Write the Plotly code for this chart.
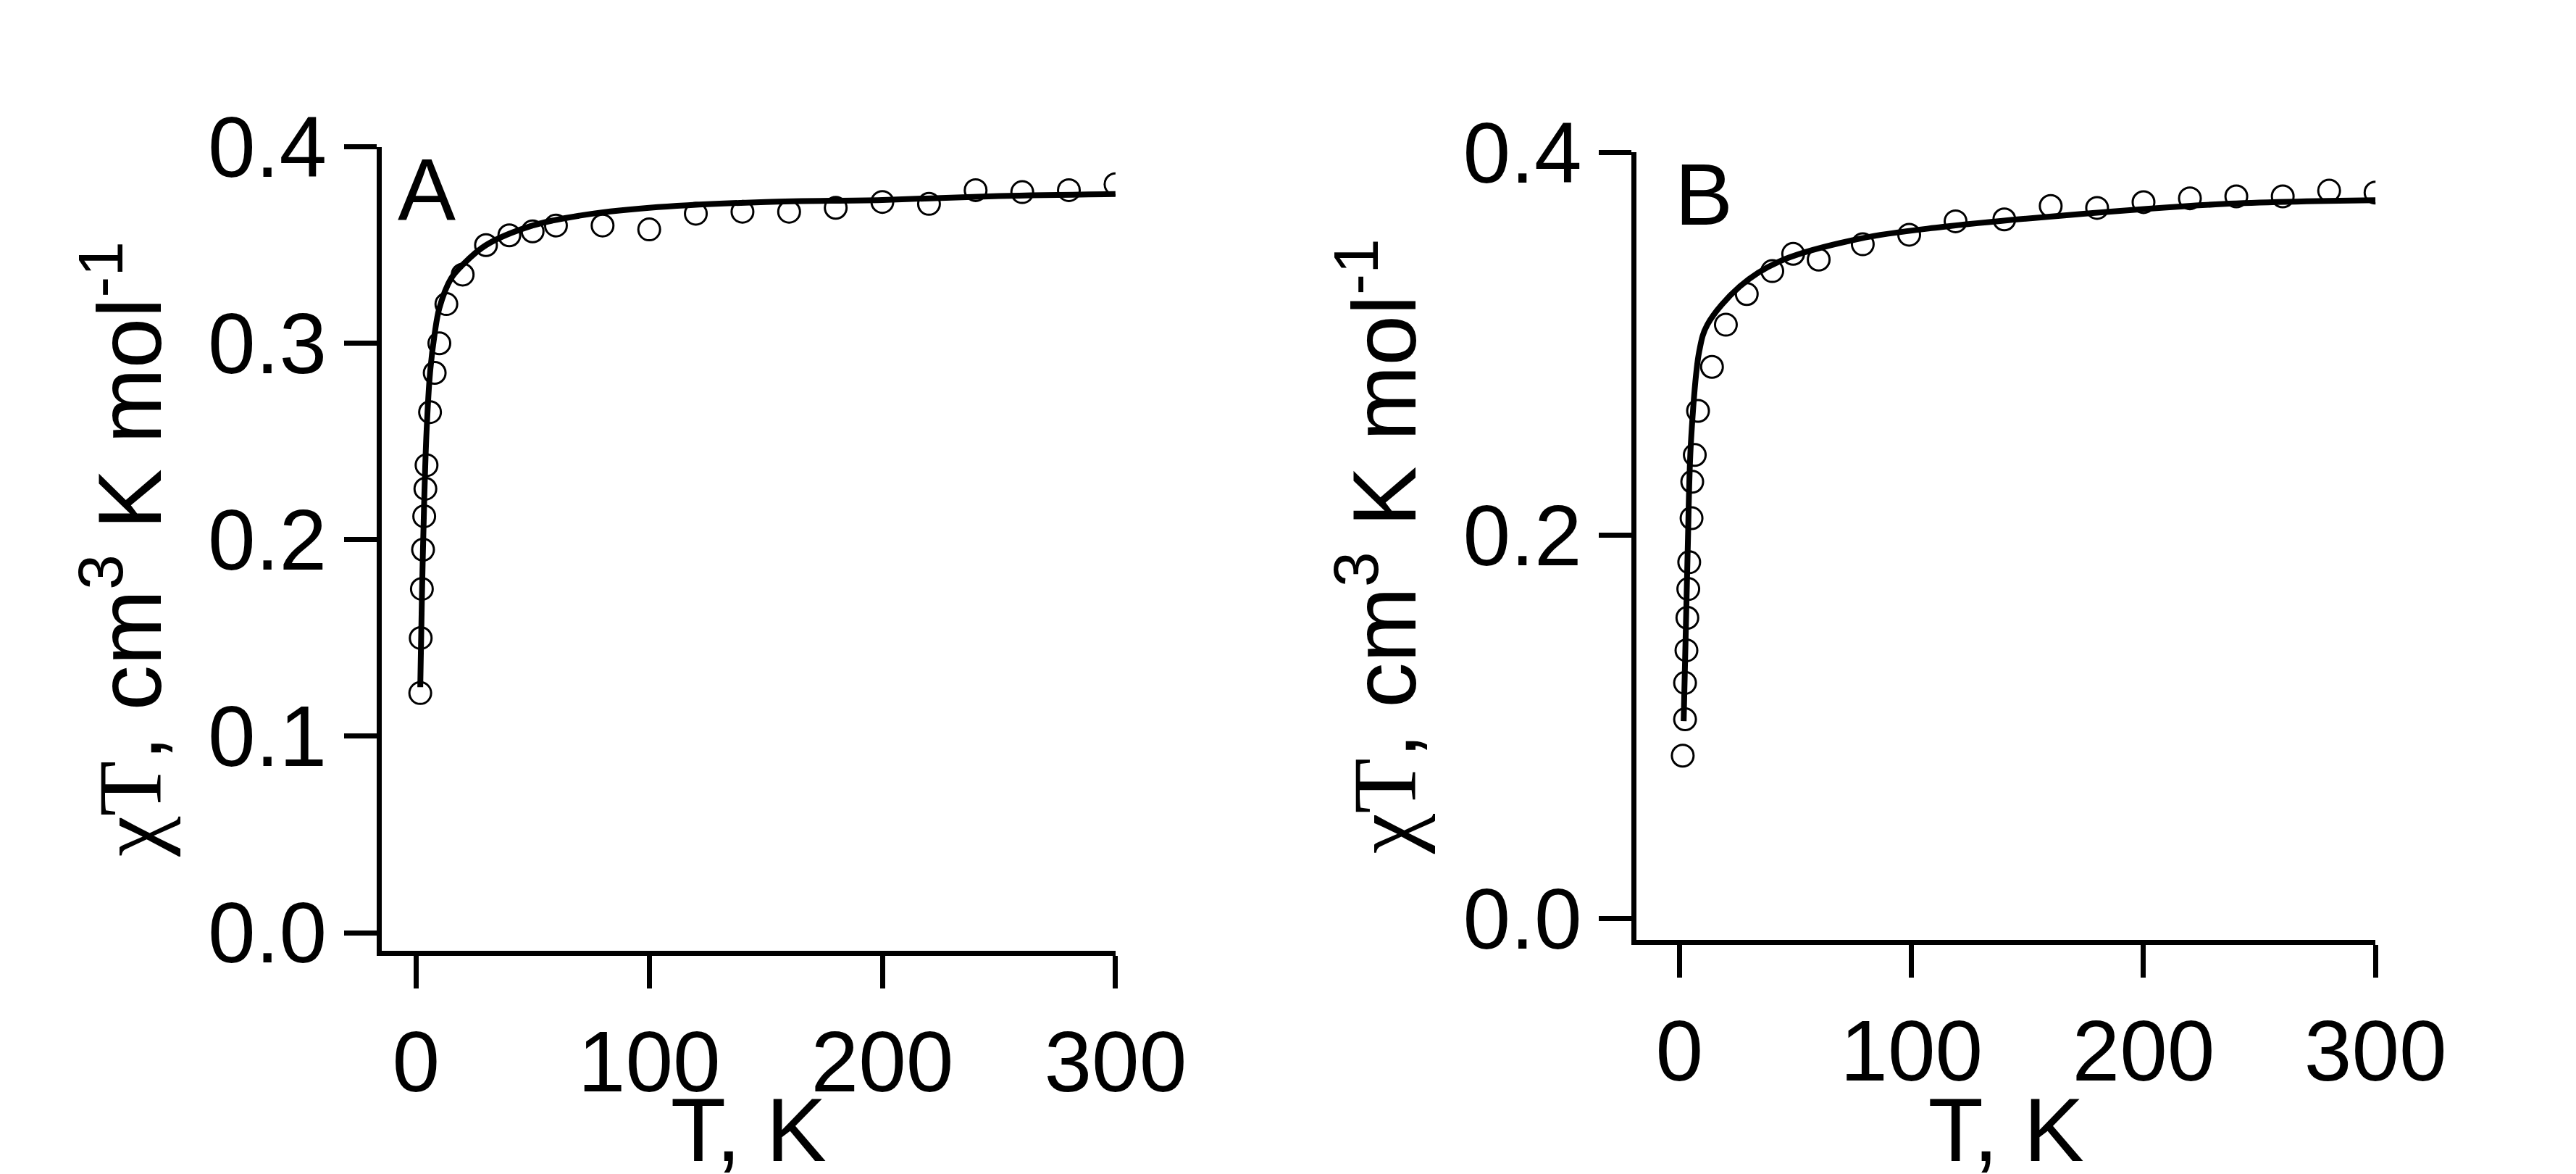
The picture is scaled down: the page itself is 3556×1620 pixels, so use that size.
import plotly.graph_objects as go

# Panel A data
tA = [1.8, 2, 2.5, 3, 3.5, 4, 4.5, 6, 8, 10, 13, 20, 30, 40, 50, 60, 80, 100,
      120, 140, 160, 180, 200, 220, 240, 260, 280, 300]
chiA = [0.122, 0.15, 0.175, 0.195, 0.212, 0.226, 0.238, 0.265, 0.285, 0.30, 0.32,
        0.335, 0.35, 0.355, 0.357, 0.36, 0.36, 0.358, 0.366, 0.367, 0.367, 0.369,
        0.372, 0.371, 0.378, 0.377, 0.378, 0.381]
fit_tA = [1.8, 2.5, 3.5, 4.5, 6, 8, 10, 15, 20, 30, 50, 70, 100, 150, 200, 250, 300]
fit_A = [0.125, 0.17, 0.22, 0.255, 0.285, 0.305, 0.318, 0.333, 0.34, 0.35, 0.36,
         0.365, 0.369, 0.372, 0.373, 0.375, 0.376]

# Panel B data
tB = [1.4, 2.4, 2.4, 3, 3.4, 3.8, 4.2, 5.2, 5.5, 6.6, 8, 14, 20, 29, 40, 49, 60, 79,
      99, 119, 140, 160, 180, 200, 220, 240, 260, 280, 300]
chiB = [0.085, 0.104, 0.123, 0.14, 0.157, 0.172, 0.186, 0.209, 0.228, 0.242, 0.265,
        0.288, 0.31, 0.326, 0.338, 0.347, 0.344, 0.352, 0.357, 0.364, 0.365, 0.372,
        0.371, 0.374, 0.376, 0.377, 0.377, 0.38, 0.379]
fit_tB = [1.8, 3.5, 5, 8.5, 12, 26, 43, 78, 113, 165, 234, 300]
fit_B = [0.103, 0.19, 0.25, 0.296, 0.31, 0.33, 0.343, 0.355, 0.361, 0.367, 0.373, 0.375]

font = "Liberation Sans, Arial, sans-serif"
ytitle = ('<span style="font-family:Liberation Serif">χT</span>, cm<sup>3</sup> K mol<sup>-1</sup>')

fig = go.Figure()
for t, c, ft, f, xa, ya in [(tA, chiA, fit_tA, fit_A, "x", "y"), (tB, chiB, fit_tB, fit_B, "x2", "y2")]:
    fig.add_trace(go.Scatter(x=t, y=c, mode="markers", xaxis=xa, yaxis=ya,
                             marker=dict(symbol="circle-open", size=30, color="black",
                                         line=dict(width=3, color="black"))))
    fig.add_trace(go.Scatter(x=ft, y=f, mode="lines", xaxis=xa, yaxis=ya,
                             line=dict(color="black", width=8, shape="spline")))

axis_common = dict(showline=True, linecolor="black", linewidth=7, ticks="outside",
                   ticklen=45, tickwidth=7, tickcolor="black", showgrid=False,
                   zeroline=False, tickfont=dict(size=118, family=font, color="black"))

tfont = dict(size=125, family=font, color="black")
fig.update_layout(
    width=3556, height=1620, plot_bgcolor="white", paper_bgcolor="white",
    showlegend=False, margin=dict(l=0, r=0, t=0, b=0),
    xaxis=dict(domain=[0.150, 0.443], range=[-14.8, 300], tickvals=[0, 100, 200, 300],
               anchor="y", title=dict(text="T, K", font=tfont, standoff=10), **axis_common),
    yaxis=dict(domain=[0.173, 0.914], range=[-0.0092, 0.4], tickvals=[0, 0.1, 0.2, 0.3, 0.4],
               tickformat=".1f", anchor="x",
               title=dict(text=ytitle, font=tfont, standoff=25), **axis_common),
    xaxis2=dict(domain=[0.651, 0.946], range=[-18.5, 300], tickvals=[0, 100, 200, 300],
                anchor="y2", title=dict(text="T, K", font=tfont, standoff=10), **axis_common),
    yaxis2=dict(domain=[0.183, 0.909], range=[-0.0112, 0.4], tickvals=[0, 0.2, 0.4],
                tickformat=".1f", anchor="x2",
                title=dict(text=ytitle, font=tfont, standoff=25), **axis_common),
    annotations=[
        dict(text="A", x=0.02, y=1.01, xref="x domain", yref="y domain", xanchor="left",
             yanchor="top", showarrow=False, font=dict(size=120, family=font, color="black")),
        dict(text="B", x=0.05, y=1.01, xref="x2 domain", yref="y2 domain", xanchor="left",
             yanchor="top", showarrow=False, font=dict(size=120, family=font, color="black")),
    ],
)

fig.write_html("out.html")
